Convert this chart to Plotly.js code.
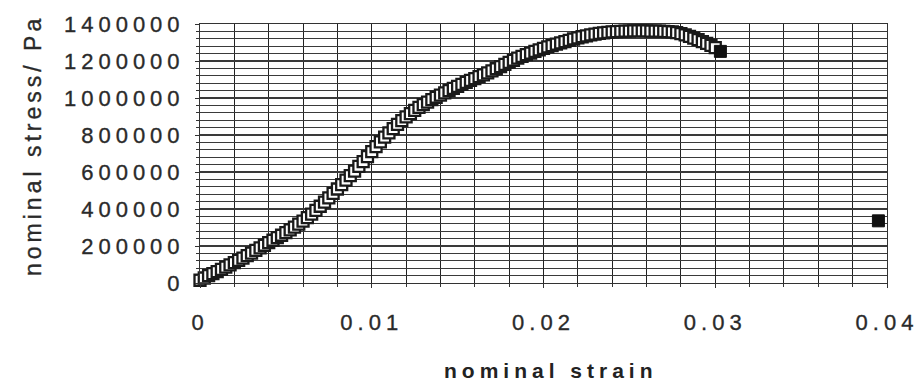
<!DOCTYPE html>
<html><head><meta charset="utf-8">
<script src="https://cdn.plot.ly/plotly-3.0.1.min.js"></script>
<style>
html,body{margin:0;padding:0;background:#fff;}
#chart .xtick text, #chart .ytick text { letter-spacing:5px; stroke:#2a2a2a; stroke-width:0.35px; }
#chart g.annotation[data-index="0"] text { letter-spacing:4px; stroke:#2a2a2a; stroke-width:0.35px; }
#chart g.annotation[data-index="1"] text { letter-spacing:5px; }
</style>
</head><body>
<div id="chart" style="width:920px;height:386px;"></div>
<script>
// Main curve (open squares)
var strain = [
0,0.00025,0.0005,0.00075,0.001,0.00125,0.0015,0.00175,0.002,0.00225,
0.0025,0.00275,0.003,0.00325,0.0035,0.00375,0.004,0.00425,0.0045,0.00475,
0.005,0.00525,0.0055,0.00575,0.006,0.00625,0.0065,0.00675,0.007,0.00725,
0.0075,0.00775,0.008,0.00825,0.0085,0.00875,0.009,0.00925,0.0095,0.00975,
0.01,0.01025,0.0105,0.01075,0.011,0.01125,0.0115,0.01175,0.012,0.01225,
0.0125,0.01275,0.013,0.01325,0.0135,0.01375,0.014,0.01425,0.0145,0.01475,
0.015,0.01525,0.0155,0.01575,0.016,0.01625,0.0165,0.01675,0.017,0.01725,
0.0175,0.01775,0.018,0.01825,0.0185,0.01875,0.019,0.01925,0.0195,0.01975,
0.02,0.02025,0.0205,0.02075,0.021,0.02125,0.0215,0.02175,0.022,0.02225,
0.0225,0.02275,0.023,0.02325,0.0235,0.02375,0.024,0.02425,0.0245,0.02475,
0.025,0.02525,0.0255,0.02575,0.026,0.02625,0.0265,0.02675,0.027,0.02725,
0.0275,0.02775,0.028,0.02825,0.0285,0.02875,0.029,0.02925,0.0295,0.02975,
0.03
];
var stress = [
15000,27000,40000,51000,62000,74000,86000,98000,110000,122000,
135000,148000,162000,176000,190000,204000,218000,231000,245000,258000,
272000,287000,302000,318000,335000,353000,372000,393000,415000,437000,
460000,484000,508000,532000,556000,580000,605000,630000,656000,683000,
710000,737000,763000,788000,812000,835000,857000,878000,898000,916000,
933000,949000,964000,978000,991000,1004000,1016000,1028000,1040000,1052000,
1063000,1074000,1085000,1095000,1105000,1115000,1125000,1136000,1147000,1158000,
1170000,1182000,1193000,1204000,1215000,1225000,1234000,1243000,1252000,1260000,
1268000,1276000,1283000,1291000,1298000,1305000,1312000,1319000,1325000,1331000,
1336000,1341000,1345000,1349000,1352000,1355000,1357000,1359000,1360000,1361000,
1362000,1363000,1363000,1363000,1363000,1362000,1362000,1361000,1360000,1359000,
1357000,1353000,1348000,1341000,1333000,1324000,1315000,1305000,1295000,1284000,
1272000
];
// Filled squares
var strainFilled = [0.0303, 0.0395];
var stressFilled = [1252000, 336000];

var xTickVals = [0, 0.01, 0.02, 0.03, 0.04];
var xTickText = ["0", "0.01", "0.02", "0.03", "0.04"];
var yTickVals = [0, 200000, 400000, 600000, 800000, 1000000, 1200000, 1400000];
var yTickText = ["0", "200000", "400000", "600000", "800000", "1000000", "1200000", "1400000"];

var font = "Liberation Sans, Arial, Helvetica, sans-serif";

var traces = [
  {x: strain, y: stress, type: "scatter", mode: "markers", cliponaxis: false,
   marker: {symbol: "square", size: 11, color: "#ffffff", line: {color: "#1a1a1a", width: 2.3}},
   hoverinfo: "skip", showlegend: false},
  {x: strainFilled, y: stressFilled, type: "scatter", mode: "markers", cliponaxis: false,
   marker: {symbol: "square", size: 12, color: "#111111", line: {color: "#111111", width: 1}},
   hoverinfo: "skip", showlegend: false}
];

var layout = {
  width: 920, height: 386,
  margin: {l: 200, r: 33, t: 24, b: 103},
  paper_bgcolor: "#ffffff", plot_bgcolor: "#ffffff",
  showlegend: false,
  font: {family: font, color: "#222222"},
  xaxis: {
    range: [0, 0.04], tickmode: "array", tickvals: xTickVals, ticktext: xTickText,
    showgrid: true, gridcolor: "#222222", gridwidth: 1,
    minor: {dtick: 0.002, showgrid: true, gridcolor: "#222222", gridwidth: 1, ticks: "outside", ticklen: 3, tickcolor: "#333333"},
    ticks: "outside", ticklen: 4, tickcolor: "#333333",
    showline: true, linecolor: "#333333", linewidth: 1, mirror: true, zeroline: false,
    tickfont: {family: font, size: 22, color: "#2a2a2a"},
    ticklabelstandoff: 16
  },
  yaxis: {
    range: [0, 1400000], tickmode: "array", tickvals: yTickVals, ticktext: yTickText,
    showgrid: true, gridcolor: "#3a3a3a", gridwidth: 1.1,
    minor: {dtick: 40000, showgrid: true, gridcolor: "#3a3a3a", gridwidth: 1.1, ticks: "outside", ticklen: 3, tickcolor: "#333333"},
    ticks: "outside", ticklen: 4, tickcolor: "#333333",
    showline: true, linecolor: "#333333", linewidth: 1, mirror: true, zeroline: false,
    tickfont: {family: font, size: 22, color: "#2a2a2a"},
    ticklabelstandoff: 6
  },
  annotations: [
    {text: "nominal stress/ Pa", xref: "paper", yref: "paper", x: -0.2431, y: 0.5328,
     xanchor: "center", yanchor: "middle", textangle: -90, showarrow: false,
     font: {family: font, size: 23, color: "#2a2a2a"}},
    {text: "<b>nominal strain</b>", xref: "paper", yref: "paper", x: 0.511, y: -0.336,
     xanchor: "center", yanchor: "middle", showarrow: false,
     font: {family: font, size: 21, color: "#222222"}}
  ]
};

Plotly.newPlot("chart", traces, layout, {staticPlot: true, displayModeBar: false});
</script>
</body></html>
